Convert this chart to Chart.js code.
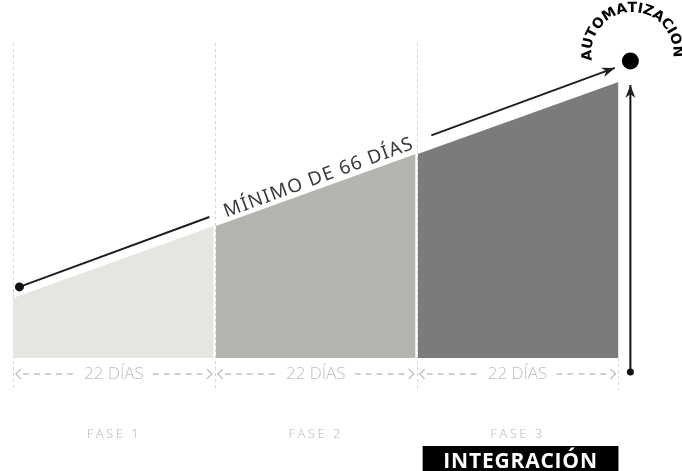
<!DOCTYPE html>
<html>
<head>
<meta charset="utf-8">
<script src="https://cdn.jsdelivr.net/npm/chart.js@4.4.1/dist/chart.umd.min.js"></script>
<style>
body { margin: 0; background: #fff; }
</style>
</head>
<body>
<canvas id="habitChart" width="682" height="471"></canvas>
<script>
const phaseNames = ['FASE 1', 'FASE 2', 'FASE 3'];
const phaseDays = ['22 DÍAS', '22 DÍAS', '22 DÍAS'];
const phaseStart = [0, 22, 44];
const phaseEnd = [22, 44, 66];
const levelStart = [20, 44, 68];
const levelEnd = [44, 68, 92];
const trendX = [0.7, 21.4, 45.6, 65.6];
const trendY = [23.7, 47, 74.2, 96.7];
const trendLabel = 'MÍNIMO DE 66 DÍAS';
const goalX = 67.3;
const goalY = 99;
const riseY = [-4.7, 91];
const goalLabel = 'AUTOMATIZACIÓN';
const highlightLabel = 'INTEGRACIÓN';
const highlightPhase = 2;

const phaseColors = ['#e5e5e2', '#b4b4b1', '#7b7b7b'];
const gap = 0.12;

const datasets = phaseStart.map((s, i) => ({
    data: [
        { x: s + (i > 0 ? gap : 0), y: levelStart[i] },
        { x: phaseEnd[i] - (i < phaseStart.length - 1 ? gap : 0), y: levelEnd[i] }
    ],
    backgroundColor: phaseColors[i],
    borderWidth: 0,
    pointRadius: 0,
    fill: 'origin'
}));

// línea "mínimo de 66 días", cortada donde va el texto
datasets.push({
    data: [
        { x: trendX[0], y: trendY[0] },
        { x: trendX[1], y: trendY[1] },
        { x: (trendX[1] + trendX[2]) / 2, y: null },
        { x: trendX[2], y: trendY[2] },
        { x: trendX[3], y: trendY[3] }
    ],
    borderColor: '#1f1f1f',
    borderWidth: 2,
    pointRadius: [4.5, 0, 0, 0, 0],
    pointBackgroundColor: '#111',
    pointBorderWidth: 0,
    spanGaps: false,
    fill: false
});

datasets.push({
    data: [{ x: goalX, y: riseY[0] }, { x: goalX, y: riseY[1] }],
    borderColor: '#111',
    borderWidth: 2,
    pointRadius: [3.5, 0],
    pointBackgroundColor: '#111',
    pointBorderWidth: 0,
    fill: false
});

datasets.push({
    data: [{ x: goalX, y: goalY }],
    showLine: false,
    pointRadius: 8.5,
    pointBackgroundColor: '#000',
    pointBorderWidth: 0,
    clip: false
});

function arrowHead(ctx, x1, y1, x2, y2) {
    const a = Math.atan2(y2 - y1, x2 - x1);
    const len = 13, half = 5;
    const c = Math.cos(a), s = Math.sin(a);
    ctx.beginPath();
    ctx.moveTo(x2, y2);
    ctx.lineTo(x2 - len * c + half * s, y2 - len * s - half * c);
    ctx.lineTo(x2 - len * 0.7 * c, y2 - len * 0.7 * s);
    ctx.lineTo(x2 - len * c - half * s, y2 - len * s + half * c);
    ctx.closePath();
    ctx.fill();
}

const decorPlugin = {
    id: 'decor',
    beforeDatasetsDraw(chart) {
        const { ctx, chartArea, scales: { x, y } } = chart;
        const base = y.getPixelForValue(0);
        ctx.save();
        ctx.strokeStyle = '#d6d6d6';
        ctx.lineWidth = 1;
        ctx.setLineDash([3, 3]);
        const bounds = phaseStart.concat([phaseEnd[phaseEnd.length - 1]]);
        bounds.forEach((d, i) => {
            const px = Math.round(x.getPixelForValue(d)) + 0.5;
            ctx.beginPath();
            ctx.moveTo(px, i < bounds.length - 1 ? chartArea.top - 15 : base);
            ctx.lineTo(px, base + 32);
            ctx.stroke();
        });
        ctx.restore();
    },
    afterDraw(chart) {
        const { ctx, scales: { x, y } } = chart;
        const base = y.getPixelForValue(0);
        ctx.save();

        // puntas de flecha
        ctx.fillStyle = '#1f1f1f';
        arrowHead(ctx, x.getPixelForValue(trendX[2]), y.getPixelForValue(trendY[2]),
            x.getPixelForValue(trendX[3]), y.getPixelForValue(trendY[3]));
        arrowHead(ctx, x.getPixelForValue(goalX), y.getPixelForValue(riseY[0]),
            x.getPixelForValue(goalX), y.getPixelForValue(riseY[1]));

        // texto sobre la línea
        const ax = x.getPixelForValue(trendX[1]), ay = y.getPixelForValue(trendY[1]);
        const bx = x.getPixelForValue(trendX[2]), by = y.getPixelForValue(trendY[2]);
        ctx.save();
        ctx.translate((ax + bx) / 2, (ay + by) / 2);
        ctx.rotate(Math.atan2(by - ay, bx - ax));
        ctx.font = '19px "Noto Sans"';
        ctx.letterSpacing = '1.2px';
        ctx.fillStyle = '#3a3a3a';
        ctx.textAlign = 'center';
        ctx.textBaseline = 'middle';
        ctx.fillText(trendLabel, -2, 1);
        ctx.restore();

        // texto curvo alrededor del punto final
        const gx = x.getPixelForValue(goalX) + 2, gy = y.getPixelForValue(goalY) - 8;
        const r = 41;
        ctx.font = 'bold 14px "DejaVu Sans"';
        ctx.letterSpacing = '0px';
        ctx.fillStyle = '#000';
        ctx.textAlign = 'center';
        ctx.textBaseline = 'alphabetic';
        const chars = goalLabel.split('');
        const widths = chars.map(ch => ctx.measureText(ch).width);
        const centers = [];
        let acc = 0;
        widths.forEach(w => { centers.push(acc + w / 2); acc += w; });
        const a0 = 177 * Math.PI / 180, a1 = 358 * Math.PI / 180;
        chars.forEach((ch, i) => {
            const t = (centers[i] - centers[0]) / (centers[centers.length - 1] - centers[0]);
            const th = a0 + t * (a1 - a0);
            ctx.save();
            ctx.translate(gx + r * Math.cos(th), gy + r * Math.sin(th));
            ctx.rotate(th + Math.PI / 2);
            ctx.fillText(ch, 0, 0);
            ctx.restore();
        });

        // etiquetas de días y fases
        phaseStart.forEach((s, i) => {
            const x0 = x.getPixelForValue(s), x1 = x.getPixelForValue(phaseEnd[i]);
            const cx = (x0 + x1) / 2;
            const ly = base + 16;
            ctx.font = '300 17px "Open Sans"';
            ctx.fillStyle = '#bdbdbd';
            ctx.textAlign = 'center';
            ctx.textBaseline = 'middle';
            ctx.letterSpacing = '0px';
            ctx.fillText(phaseDays[i], cx, ly);
            const half = ctx.measureText(phaseDays[i]).width / 2;
            ctx.strokeStyle = '#c4c4c4';
            ctx.lineWidth = 1.5;
            ctx.setLineDash([6, 5]);
            ctx.beginPath();
            ctx.moveTo(x0 + 10, ly);
            ctx.lineTo(cx - half - 8, ly);
            ctx.moveTo(cx + half + 9, ly);
            ctx.lineTo(x1 - 9, ly);
            ctx.stroke();
            ctx.setLineDash([]);
            ctx.beginPath();
            ctx.moveTo(x0 + 8, ly - 5);
            ctx.lineTo(x0 + 3, ly);
            ctx.lineTo(x0 + 8, ly + 5);
            ctx.moveTo(x1 - 8, ly - 5);
            ctx.lineTo(x1 - 3, ly);
            ctx.lineTo(x1 - 8, ly + 5);
            ctx.stroke();

            ctx.font = '300 13px "Open Sans"';
            ctx.letterSpacing = '2.5px';
            ctx.fillStyle = '#b5b5b5';
            ctx.fillText(phaseNames[i], cx, base + 76);

            if (i === highlightPhase) {
                ctx.fillStyle = '#000';
                ctx.fillRect(x0 + 6, base + 88, x1 - x0 - 6, 30);
                ctx.fillStyle = '#fff';
                ctx.font = 'bold 21px "Open Sans"';
                ctx.letterSpacing = '0.8px';
                ctx.fillText(highlightLabel, cx + 3, base + 104);
            }
        });
        ctx.restore();
    }
};

new Chart(document.getElementById('habitChart'), {
    type: 'line',
    data: { datasets: datasets },
    options: {
        responsive: false,
        animation: false,
        layout: { padding: { left: 13, right: 6, top: 58, bottom: 83 } },
        elements: { line: { tension: 0 } },
        scales: {
            x: { type: 'linear', min: 0, max: 72, display: false },
            y: { min: -10, max: 100, display: false }
        },
        plugins: {
            legend: { display: false },
            tooltip: { enabled: false }
        }
    },
    plugins: [decorPlugin]
});
</script>
</body>
</html>
